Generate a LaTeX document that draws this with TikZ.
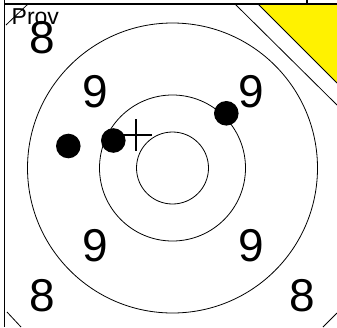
\documentclass[tikz,border=0pt]{standalone}
\usepackage{fontspec}
\setmainfont{Liberation Sans}
\begin{document}
\begin{tikzpicture}[x=1pt,y=-1pt,
  num/.style={font=\fontsize{46}{46}\selectfont, inner sep=0pt},
  lbl/.style={font=\fontsize{23}{23}\selectfont, inner sep=0pt, anchor=base west},
  ring/.style={draw=black, line width=0.8pt},
  frame/.style={draw=black, line width=1.1pt},
  cut/.style={draw=black, line width=0.8pt},
  shot/.style={circle, fill=black, minimum size=24.6pt, inner sep=0pt},
  cross/.style={draw=black, line width=1.3pt}]
\useasboundingbox (0,0) rectangle (337,327);
% yellow corner
\fill[yellow] (258,4) -- (337,4) -- (337,83) -- cycle;
\draw[cut] (258,4) -- (337,83);
\draw[cut] (235,4) -- (337,105);
% other corner cuts
\draw[cut] (6,25) -- (28,4);
\draw[cut] (7,312) -- (21,327);
\draw[cut] (323,327) -- (337,313);
% frame
\draw[frame] (4,4) -- (337,4);
\draw[frame] (4.5,0) -- (4.5,327);
\draw[frame] (307,0) -- (307,4);
% rings
\coordinate (c) at (172.5,168);
\draw[ring] (c) circle[radius=145];
\draw[ring] (c) circle[radius=73];
\draw[ring] (c) circle[radius=36];
% numbers
\node[lbl] (prov) at (11.5,24) {Prov};
\node[num] (n8a) at (42,38) {8};
\node[num] (n8b) at (42,296) {8};
\node[num] (n8c) at (302,296) {8};
\node[num] (n9a) at (95,92) {9};
\node[num] (n9b) at (251,92) {9};
\node[num] (n9c) at (95,246) {9};
\node[num] (n9d) at (251,246) {9};
% aim cross
\coordinate (x0) at (136,135);
\draw[cross] (120,135) -- (152,135);
\draw[cross] (136,119) -- (136,151);
% shots
\node[shot] (s1) at (68.3,146) {};
\node[shot] (s2) at (113.3,140.5) {};
\node[shot] (s3) at (226.3,113.3) {};
\end{tikzpicture}
\end{document}
